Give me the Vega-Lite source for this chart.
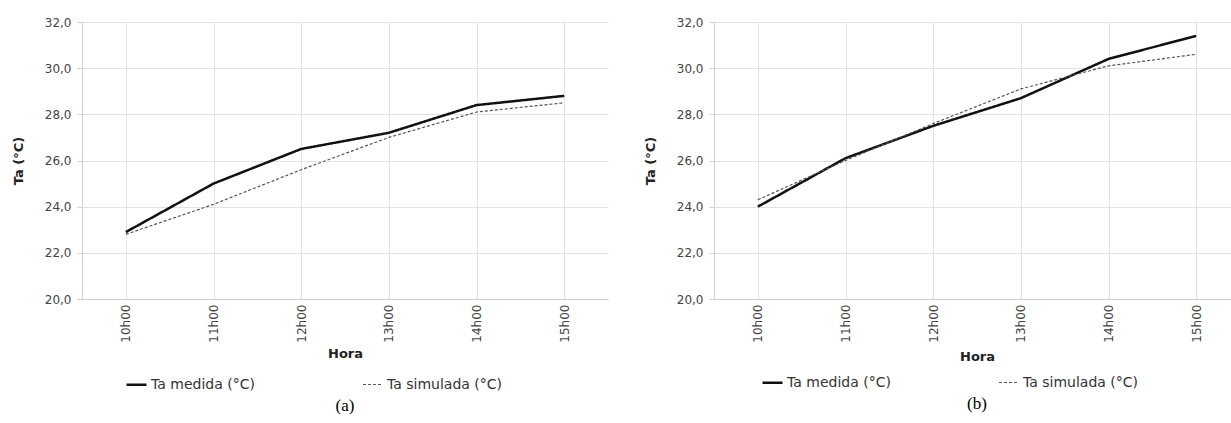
{
  "$schema": "https://vega.github.io/schema/vega-lite/v6.json",
  "padding": {"left": 12, "top": 16, "right": 0, "bottom": 0},
  "background": "white",
  "spacing": 36,
  "config": {
    "view": {"stroke": null},
    "font": "DejaVu Sans",
    "axis": {
      "labelFont": "DejaVu Sans",
      "titleFont": "DejaVu Sans",
      "labelFontSize": 12,
      "labelColor": "#444",
      "titleFontSize": 13,
      "titleFontWeight": "bold",
      "titleColor": "#222",
      "gridColor": "#e2e2e2",
      "domainColor": "#d0d0d0",
      "tickColor": "#d0d0d0"
    },
    "legend": {
      "labelFont": "DejaVu Sans",
      "labelFontSize": 14,
      "labelColor": "#333"
    }
  },
  "datasets": {
    "a": [
      {"hora": "10h00", "serie": "Ta  medida (°C)", "ta": 22.9},
      {"hora": "11h00", "serie": "Ta  medida (°C)", "ta": 25.0},
      {"hora": "12h00", "serie": "Ta  medida (°C)", "ta": 26.5},
      {"hora": "13h00", "serie": "Ta  medida (°C)", "ta": 27.2},
      {"hora": "14h00", "serie": "Ta  medida (°C)", "ta": 28.4},
      {"hora": "15h00", "serie": "Ta  medida (°C)", "ta": 28.8},
      {"hora": "10h00", "serie": "Ta simulada (°C)", "ta": 22.8},
      {"hora": "11h00", "serie": "Ta simulada (°C)", "ta": 24.1},
      {"hora": "12h00", "serie": "Ta simulada (°C)", "ta": 25.6},
      {"hora": "13h00", "serie": "Ta simulada (°C)", "ta": 27.0},
      {"hora": "14h00", "serie": "Ta simulada (°C)", "ta": 28.1},
      {"hora": "15h00", "serie": "Ta simulada (°C)", "ta": 28.5}
    ],
    "b": [
      {"hora": "10h00", "serie": "Ta  medida (°C)", "ta": 24.0},
      {"hora": "11h00", "serie": "Ta  medida (°C)", "ta": 26.1},
      {"hora": "12h00", "serie": "Ta  medida (°C)", "ta": 27.5},
      {"hora": "13h00", "serie": "Ta  medida (°C)", "ta": 28.7},
      {"hora": "14h00", "serie": "Ta  medida (°C)", "ta": 30.4},
      {"hora": "15h00", "serie": "Ta  medida (°C)", "ta": 31.4},
      {"hora": "10h00", "serie": "Ta simulada (°C)", "ta": 24.3},
      {"hora": "11h00", "serie": "Ta simulada (°C)", "ta": 26.0},
      {"hora": "12h00", "serie": "Ta simulada (°C)", "ta": 27.6},
      {"hora": "13h00", "serie": "Ta simulada (°C)", "ta": 29.1},
      {"hora": "14h00", "serie": "Ta simulada (°C)", "ta": 30.1},
      {"hora": "15h00", "serie": "Ta simulada (°C)", "ta": 30.6}
    ]
  },
  "hconcat": [
    {
      "data": {"name": "a"},
      "width": 526,
      "height": 277,
      "title": {"text": "(a)", "orient": "bottom", "font": "Liberation Serif", "fontSize": 17, "fontWeight": "normal", "color": "#000", "offset": 6},
      "mark": {"type": "line"},
      "encoding": {
        "x": {"field": "hora", "type": "ordinal", "scale": {"type": "point", "padding": 0.5},
              "axis": {"title": "Hora", "labelAngle": -90, "grid": true, "ticks": false, "labelPadding": 5, "titlePadding": 5}},
        "y": {"field": "ta", "type": "quantitative", "scale": {"domain": [20, 32], "nice": false, "zero": false},
              "axis": {"title": "Ta (°C)", "values": [20, 22, 24, 26, 28, 30, 32], "labelExpr": "replace(format(datum.value, '.1f'), '.', ',')", "tickSize": 5, "labelPadding": 6, "titlePadding": 19}},
        "color": {"field": "serie", "type": "nominal", "scale": {"range": ["#111111", "#555555"]},
                  "legend": {"title": null, "orient": "none", "legendX": 43, "legendY": 351, "direction": "horizontal", "symbolType": "stroke", "symbolSize": 400, "symbolStrokeWidth": 2, "labelOffset": 3, "columnPadding": 100}},
        "strokeDash": {"field": "serie", "type": "nominal", "scale": {"range": [[1, 0], [3, 2]]}},
        "strokeWidth": {"field": "serie", "type": "nominal", "scale": {"range": [2.5, 1.2]}, "legend": null}
      }
    },
    {
      "data": {"name": "b"},
      "width": 526,
      "height": 277,
      "title": {"text": "(b)", "orient": "bottom", "font": "Liberation Serif", "fontSize": 17, "fontWeight": "normal", "color": "#000", "offset": 6},
      "mark": {"type": "line"},
      "encoding": {
        "x": {"field": "hora", "type": "ordinal", "scale": {"type": "point", "padding": 0.5},
              "axis": {"title": "Hora", "labelAngle": -90, "grid": true, "ticks": false, "labelPadding": 5, "titlePadding": 8}},
        "y": {"field": "ta", "type": "quantitative", "scale": {"domain": [20, 32], "nice": false, "zero": false},
              "axis": {"title": "Ta (°C)", "values": [20, 22, 24, 26, 28, 30, 32], "labelExpr": "replace(format(datum.value, '.1f'), '.', ',')", "tickSize": 5, "labelPadding": 6, "titlePadding": 19}},
        "color": {"field": "serie", "type": "nominal", "scale": {"range": ["#111111", "#555555"]},
                  "legend": {"title": null, "orient": "none", "legendX": 47, "legendY": 349, "direction": "horizontal", "symbolType": "stroke", "symbolSize": 400, "symbolStrokeWidth": 2, "labelOffset": 3, "columnPadding": 100}},
        "strokeDash": {"field": "serie", "type": "nominal", "scale": {"range": [[1, 0], [3, 2]]}},
        "strokeWidth": {"field": "serie", "type": "nominal", "scale": {"range": [2.5, 1.2]}, "legend": null}
      }
    }
  ],
  "resolve": {"scale": {"color": "independent", "strokeDash": "independent", "strokeWidth": "independent"}}
}
